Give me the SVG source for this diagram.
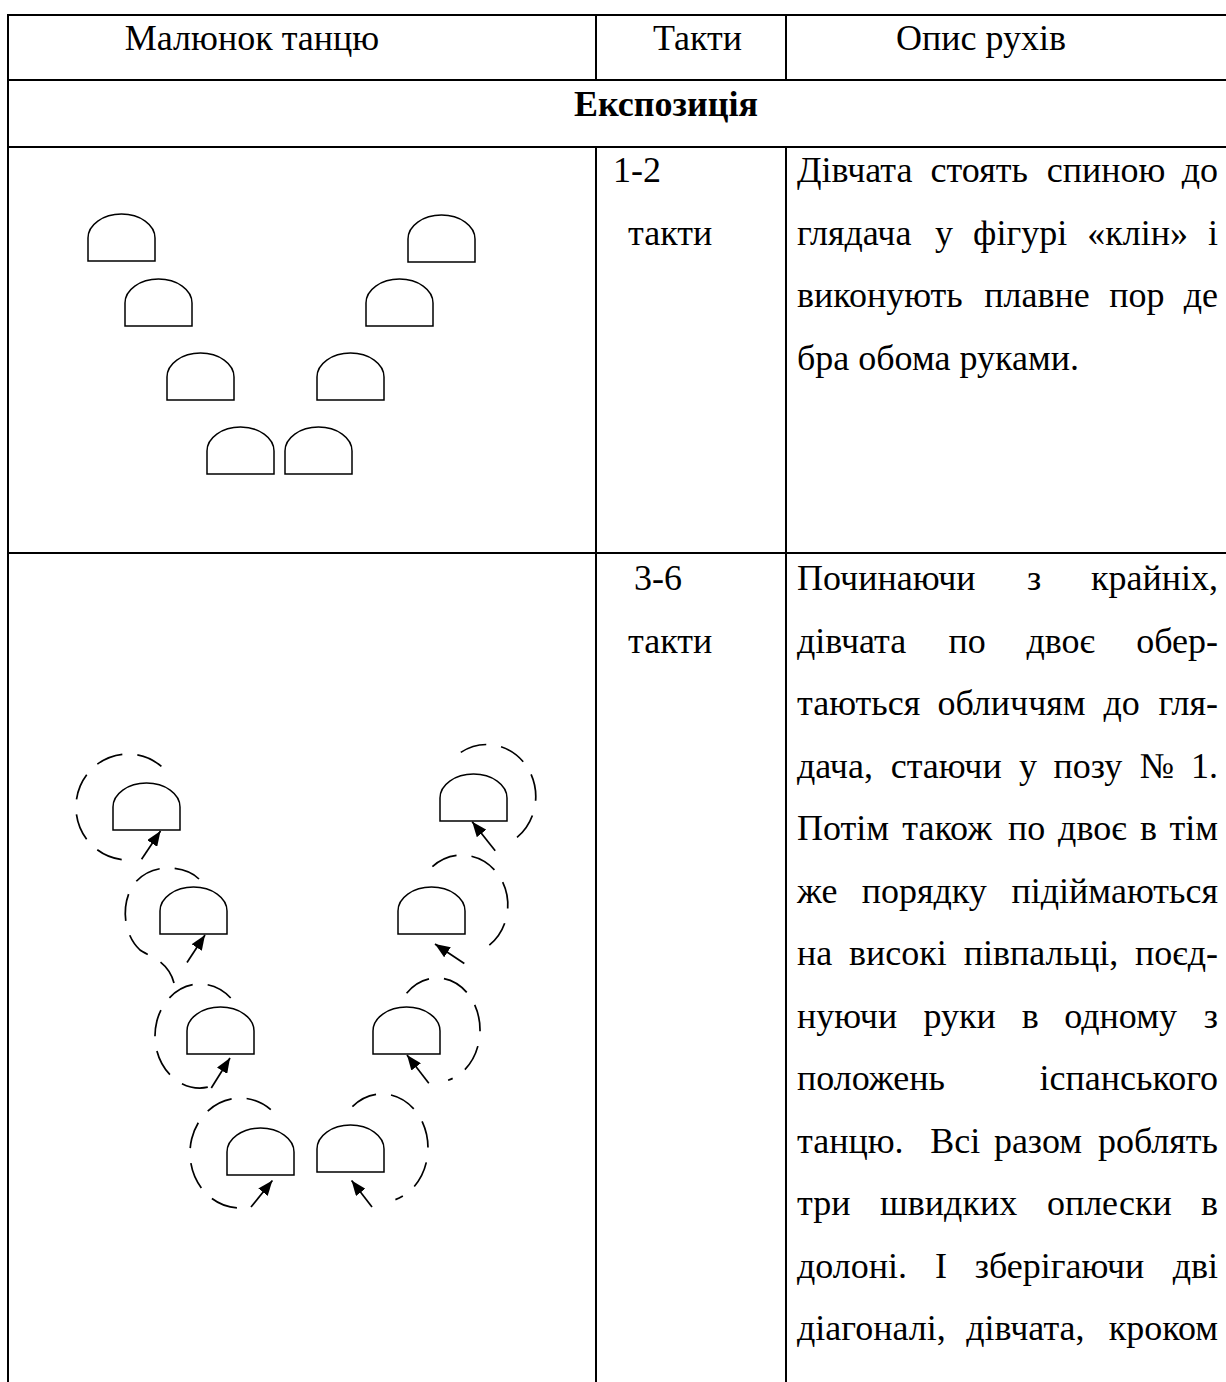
<svg xmlns="http://www.w3.org/2000/svg" xmlns:xlink="http://www.w3.org/1999/xlink" width="1226" height="1382" viewBox="0 0 1226 1382">
<style>
.grid{stroke:#000;stroke-width:2;fill:none}
.t{font-family:"Liberation Serif","Times New Roman",serif;font-size:36px;fill:#000}
.e{text-anchor:end}
.m{text-anchor:middle}
.b{font-weight:bold}
.dancer{fill:#fff;stroke:#000;stroke-width:1.5}
.turn{fill:none;stroke:#000;stroke-width:1.7;stroke-dasharray:27 15}
.arr{fill:none;stroke:#000;stroke-width:1.7;marker-end:url(#ah)}
</style>
<defs>
<path id="d" d="M0,47 V24 A33.5,24 0 0 1 67,24 V47 Z"/>
<marker id="ah" markerUnits="userSpaceOnUse" markerWidth="16" markerHeight="12" refX="15" refY="6" orient="auto">
<path d="M0,0 L15,6 L0,12 Z" fill="#000"/>
</marker>
</defs>
<rect width="1226" height="1382" fill="#fff"/>
<g id="table">
<line class="grid" x1="8" y1="15" x2="1226" y2="15"/>
<line class="grid" x1="8" y1="80" x2="1226" y2="80"/>
<line class="grid" x1="8" y1="147" x2="1226" y2="147"/>
<line class="grid" x1="8" y1="553" x2="1226" y2="553"/>
<line class="grid" x1="8" y1="14" x2="8" y2="1382"/>
<line class="grid" x1="596" y1="15" x2="596" y2="80"/>
<line class="grid" x1="786" y1="15" x2="786" y2="80"/>
<line class="grid" x1="596" y1="147" x2="596" y2="1382"/>
<line class="grid" x1="786" y1="147" x2="786" y2="1382"/>
</g>
<g id="header">
<text class="t m" x="252" y="50">Малюнок танцю</text>
<text class="t" x="653" y="50">Такти</text>
<text class="t" x="896" y="50">Опис рухів</text>
<text class="t b" x="574" y="116">Експозиція</text>
</g>
<g id="row1-text">
<text class="t" x="613" y="182">1-2</text>
<text class="t" x="628" y="244.5">такти</text>
<text class="t" y="182"><tspan x="797">Дівчата</tspan><tspan x="930.6">стоять</tspan><tspan x="1046.7">спиною</tspan></text>
<text class="t e" x="1218" y="182">до</text>
<text class="t" y="244.5"><tspan x="797">глядача</tspan><tspan x="935">у</tspan><tspan x="973.1">фігурі</tspan><tspan x="1087.2">«клін»</tspan></text>
<text class="t e" x="1218" y="244.5">і</text>
<text class="t" y="307"><tspan x="797">виконують</tspan><tspan x="984.3">плавне</tspan><tspan x="1109.3">пор</tspan></text>
<text class="t e" x="1218" y="307">де</text>
<text class="t" x="797" y="369.5">бра обома руками.</text>
</g>
<g id="row2-text">
<text class="t" x="634" y="590">3-6</text>
<text class="t" x="628" y="652.5">такти</text>
<text class="t" y="590"><tspan x="797">Починаючи</tspan><tspan x="1027.1">з</tspan></text>
<text class="t e" x="1218" y="590">крайніх,</text>
<text class="t" y="652.5"><tspan x="797">дівчата</tspan><tspan x="948.4">по</tspan><tspan x="1026.4">двоє</tspan></text>
<text class="t e" x="1218" y="652.5">обер-</text>
<text class="t" y="715"><tspan x="797">таються</tspan><tspan x="937.4">обличчям</tspan><tspan x="1103.4">до</tspan></text>
<text class="t e" x="1218" y="715">гля-</text>
<text class="t" y="777.5"><tspan x="797">дача,</tspan><tspan x="890.7">стаючи</tspan><tspan x="1018.9">у</tspan><tspan x="1053.6">позу</tspan><tspan x="1139.8">№</tspan></text>
<text class="t e" x="1218" y="777.5">1.</text>
<text class="t" y="840"><tspan x="797">Потім</tspan><tspan x="902.3">також</tspan><tspan x="1008">по</tspan><tspan x="1058.1">двоє</tspan><tspan x="1139.9">в</tspan></text>
<text class="t e" x="1218" y="840">тім</text>
<text class="t" y="902.5"><tspan x="797">же</tspan><tspan x="861.7">порядку</tspan></text>
<text class="t e" x="1218" y="902.5">підіймаються</text>
<text class="t" y="965"><tspan x="797">на</tspan><tspan x="849.1">високі</tspan><tspan x="963.7">півпальці,</tspan></text>
<text class="t e" x="1218" y="965">поєд-</text>
<text class="t" y="1027.5"><tspan x="797">нуючи</tspan><tspan x="923.6">руки</tspan><tspan x="1021.8">в</tspan><tspan x="1064.3">одному</tspan></text>
<text class="t e" x="1218" y="1027.5">з</text>
<text class="t" x="797" y="1090">положень</text>
<text class="t e" x="1218" y="1090">іспанського</text>
<text class="t" y="1152.5"><tspan x="797">танцю.</tspan><tspan x="930.2">Всі</tspan><tspan x="993.9">разом</tspan></text>
<text class="t e" x="1218" y="1152.5">роблять</text>
<text class="t" y="1215"><tspan x="797">три</tspan><tspan x="880.1">швидких</tspan><tspan x="1046.9">оплески</tspan></text>
<text class="t e" x="1218" y="1215">в</text>
<text class="t" y="1277.5"><tspan x="797">долоні.</tspan><tspan x="935">І</tspan><tspan x="974.7">зберігаючи</tspan></text>
<text class="t e" x="1218" y="1277.5">дві</text>
<text class="t" y="1340"><tspan x="797">діагоналі,</tspan><tspan x="966.3">дівчата,</tspan></text>
<text class="t e" x="1218" y="1340">кроком</text>
</g>
<g id="figure1">
<use id="f1-a" href="#d" class="dancer" x="88" y="214"/>
<use id="f1-b" href="#d" class="dancer" x="408" y="215"/>
<use id="f1-c" href="#d" class="dancer" x="125" y="279"/>
<use id="f1-d" href="#d" class="dancer" x="366" y="279"/>
<use id="f1-e" href="#d" class="dancer" x="167" y="353"/>
<use id="f1-f" href="#d" class="dancer" x="317" y="353"/>
<use id="f1-g" href="#d" class="dancer" x="207" y="427"/>
<use id="f1-h" href="#d" class="dancer" x="285" y="427"/>
</g>
<g id="figure2">
<use id="f2-l1" href="#d" class="dancer" x="113" y="783"/>
<use id="f2-r1" href="#d" class="dancer" x="440" y="774"/>
<use id="f2-l2" href="#d" class="dancer" x="160" y="887"/>
<use id="f2-r2" href="#d" class="dancer" x="398" y="887"/>
<use id="f2-l3" href="#d" class="dancer" x="187" y="1007"/>
<use id="f2-r3" href="#d" class="dancer" x="373" y="1007"/>
<use id="f2-l4" href="#d" class="dancer" x="227" y="1128"/>
<use id="f2-r4" href="#d" class="dancer" x="317" y="1125"/>
</g>
<g id="connectors">
<path class="turn" d="M161.4,766.4 A52,53 0 1 0 121.7,859.6"/>
<path class="turn" d="M460.8,752.4 A49,52 0 1 1 506.7,844"/>
<path class="turn" d="M199,879 C186,866 152,861 134,884 C122,900 121,932 140,950 C148,956 168,960 174,983"/>
<path class="turn" d="M432.4,866.7 A46,50 0 1 1 486.4,947.4"/>
<path class="turn" d="M230.7,998 A45,52 0 1 0 207.8,1087.2"/>
<path class="turn" d="M406.6,993.2 A43,52 0 1 1 448.1,1080.2"/>
<path class="turn" d="M270.8,1109.7 A50,55 0 1 0 247,1207.5"/>
<path class="turn" d="M352.4,1106.6 A46,54 0 1 1 395.4,1199.6"/>
<line class="arr" x1="141.6" y1="859.3" x2="160.5" y2="831"/>
<line class="arr" x1="495.2" y1="850.7" x2="472.2" y2="821.7"/>
<line class="arr" x1="187" y1="962.5" x2="205" y2="935"/>
<line class="arr" x1="464.3" y1="963.5" x2="435" y2="944"/>
<line class="arr" x1="211.3" y1="1088" x2="230" y2="1058"/>
<line class="arr" x1="428.8" y1="1083.3" x2="407" y2="1055"/>
<line class="arr" x1="251" y1="1207" x2="272.4" y2="1180.5"/>
<line class="arr" x1="372" y1="1207" x2="351.6" y2="1180.5"/>
</g>
</svg>
